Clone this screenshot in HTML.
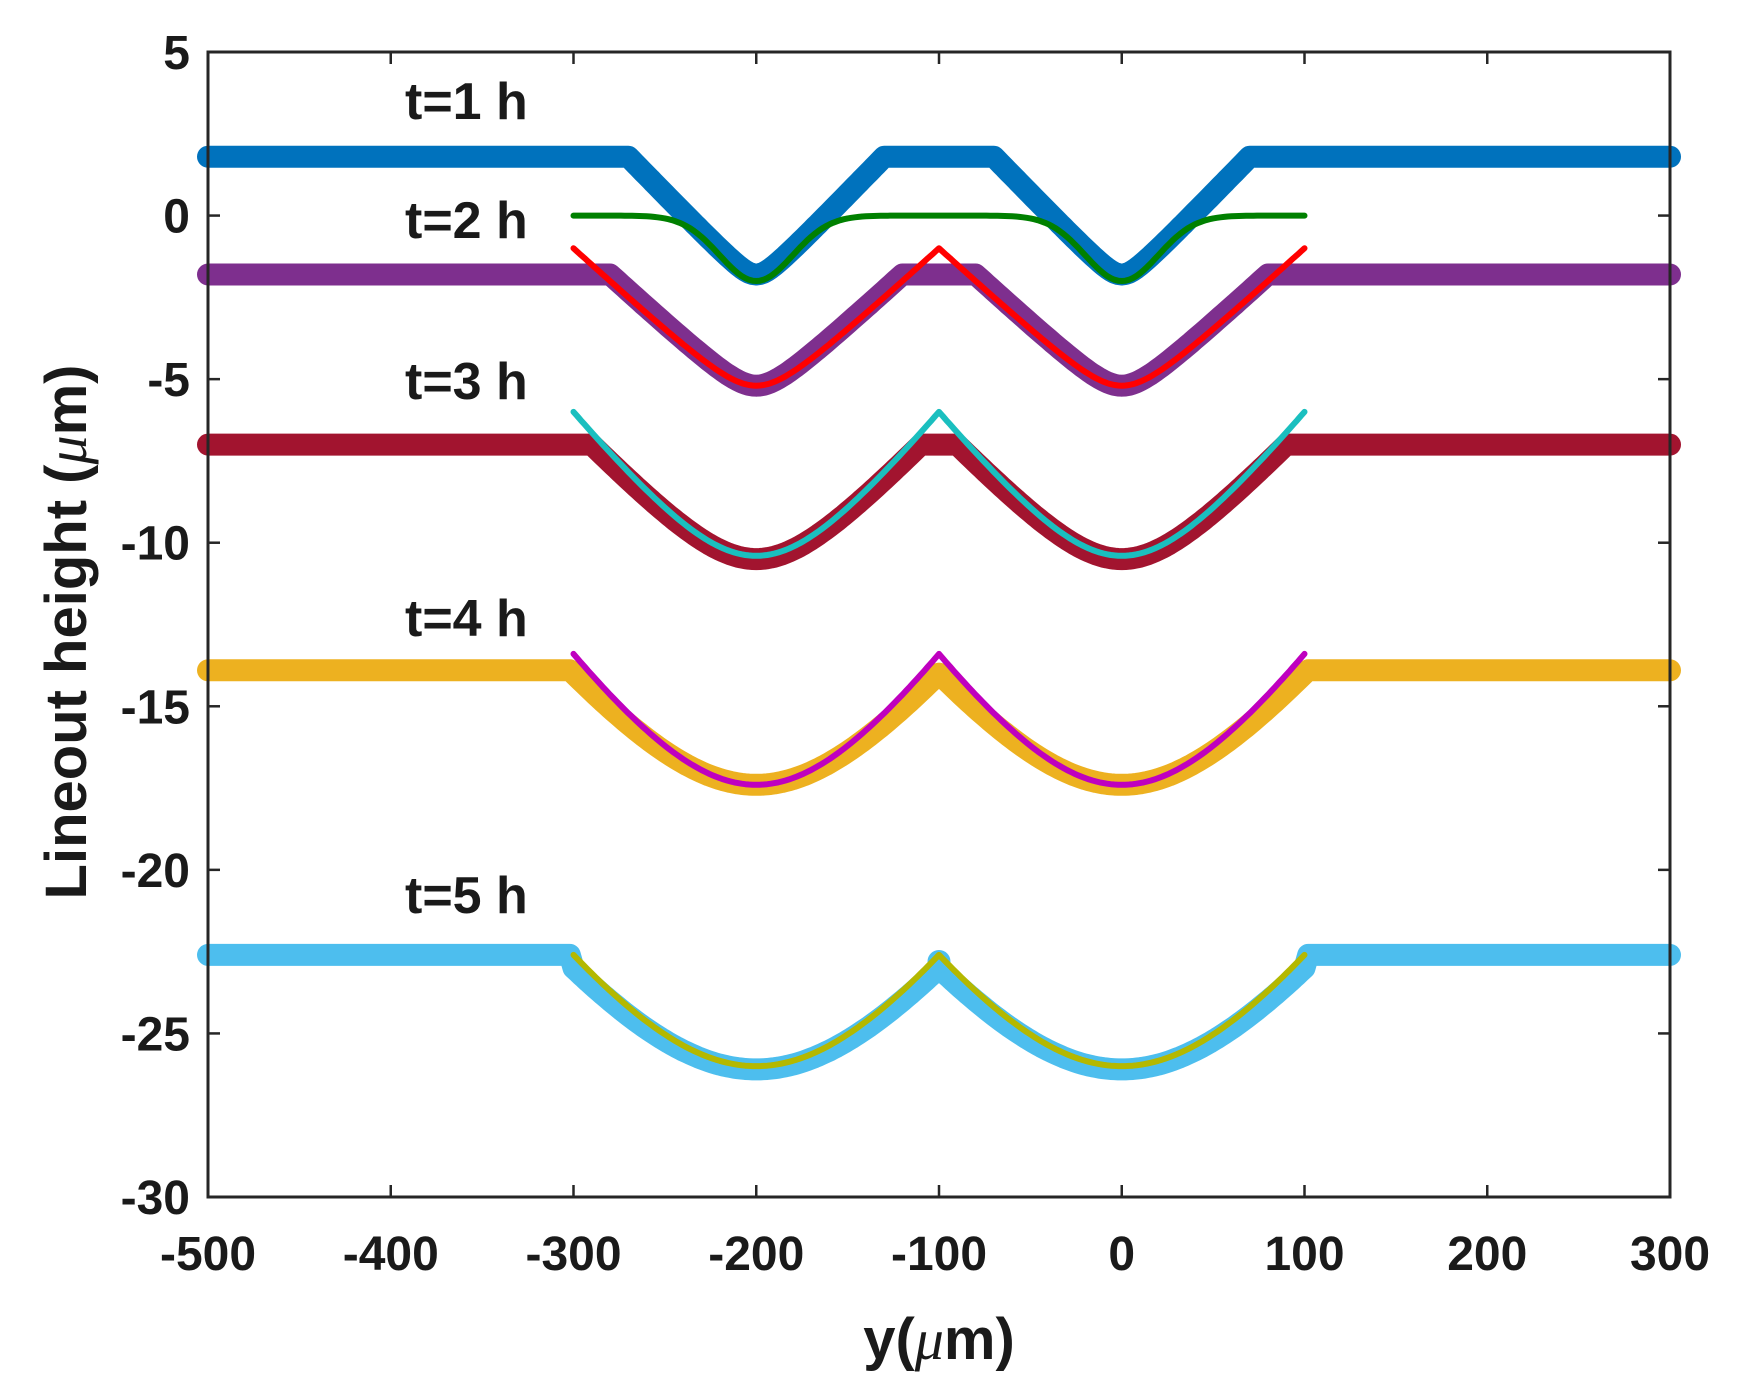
<!DOCTYPE html>
<html><head><meta charset="utf-8"><style>
html,body{margin:0;padding:0;background:#fff}
svg{display:block}
text{font-family:"Liberation Sans",Arial,sans-serif;font-weight:bold;fill:#1a1a1a}
</style></head><body>
<svg id="s" width="1745" height="1395" viewBox="0 0 1745 1395" xmlns="http://www.w3.org/2000/svg">
<g id="curves" fill="none" stroke-linecap="round" stroke-linejoin="round"></g>
<rect x="208" y="52" width="1462" height="1145" fill="none" stroke="#262626" stroke-width="3"/>
<g id="ticks" stroke="#262626" stroke-width="2.5"></g>
<g id="labels" font-size="48"></g>
<text x="405" y="119" font-size="52">t=1 h</text>
<text x="405" y="238" font-size="52">t=2 h</text>
<text x="405" y="399" font-size="52">t=3 h</text>
<text x="405" y="636" font-size="52">t=4 h</text>
<text x="405" y="913" font-size="52">t=5 h</text>
<text x="939" y="1359" font-size="58" text-anchor="middle">y(<tspan font-family="Liberation Serif" font-style="italic" font-weight="normal">μ</tspan>m)</text>
<text transform="translate(86,632) rotate(-90)" font-size="58" text-anchor="middle">Lineout height (<tspan font-family="Liberation Serif" font-style="italic" font-weight="normal">μ</tspan>m)</text>
</svg>
<script>
var NS="http://www.w3.org/2000/svg";
function X(v){return 208+(v+500)*1462/800;}
function Y(v){return 52+(5-v)*1145/35;}
function el(p,tag,a){var e=document.createElementNS(NS,tag);for(var k in a)e.setAttribute(k,a[k]);p.appendChild(e);return e;}
var tk=document.getElementById('ticks'),lb=document.getElementById('labels');
for(var v=-500;v<=300;v+=100){var x=X(v);
 el(tk,'line',{x1:x,y1:1197,x2:x,y2:1185});el(tk,'line',{x1:x,y1:52,x2:x,y2:64});
 var t=el(lb,'text',{x:x,y:1270,'text-anchor':'middle'});t.textContent=v;}
for(var v=5;v>=-30;v-=5){var y=Y(v);
 el(tk,'line',{x1:208,y1:y,x2:220,y2:y});el(tk,'line',{x1:1670,y1:y,x2:1658,y2:y});
 var t=el(lb,'text',{x:190,y:y+17,'text-anchor':'end'});t.textContent=v;}
var cg=document.getElementById('curves');
function valley(x,ymin,ytop,dtop,r){
 var c=(x<-100)?-200:0;var d=Math.abs(x-c);
 var k=(ytop-ymin)/(Math.sqrt(dtop*dtop+r*r)-r);
 return ymin+k*(Math.sqrt(d*d+r*r)-r);}
function path(f,x0,x1,col,w){
 var s='';for(var x=x0;x<=x1+0.01;x+=2){s+=(s?'L':'M')+X(x).toFixed(1)+','+Y(f(x)).toFixed(1);}
 el(cg,'path',{d:s,stroke:col,'stroke-width':w});}
path(function(x){return Math.min(1.8,valley(x,-1.8,1.8,70,8));},-500,300,'#0072BD',22);
path(function(x){return -2*Math.exp(-Math.pow(x+200,2)/(2*20*20))-2*Math.exp(-Math.pow(x,2)/(2*20*20));},-300,100,'#008000',6);
path(function(x){return Math.min(-1.8,valley(x,-5.2,-1.8,80,15));},-500,300,'#7E2F8E',22);
path(function(x){return valley(x,-5.2,-1,100,20);},-300,100,'#FF0000',6);
path(function(x){return Math.min(-7,valley(x,-10.5,-7,90,40));},-500,300,'#A2142F',22);
path(function(x){return valley(x,-10.4,-6,100,50);},-300,100,'#1ABFBF',6);
path(function(x){return (x<-300||x>100)?-13.9:valley(x,-17.4,-14,100,80);},-500,300,'#EDB120',22);
path(function(x){return valley(x,-17.4,-13.4,100,80);},-300,100,'#BF00BF',6);
path(function(x){return (x<-300||x>100)?-22.6:valley(x,-26.1,-23,100,100);},-500,300,'#4DBEEE',22);
el(cg,'circle',{cx:X(-100),cy:Y(-22.8),r:9,stroke:'#4DBEEE','stroke-width':5,fill:'none'});
path(function(x){return valley(x,-26,-22.6,100,100);},-300,100,'#B4B800',6);
</script>
</body></html>
